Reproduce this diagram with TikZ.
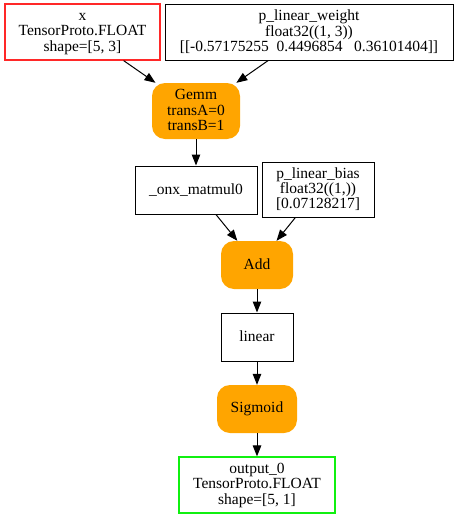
\documentclass[tikz,border=0pt]{standalone}
\usepackage{fontspec}
\setmainfont{Liberation Serif}
\usetikzlibrary{arrows.meta}
\definecolor{opfill}{HTML}{FFA500}
\definecolor{inred}{HTML}{FF2828}
\definecolor{outgreen}{HTML}{10F010}
% line strut: fixed ascent and descent for the first and last label line
\newcommand\ls{\rule[-3pt]{0pt}{14pt}}
\begin{document}
\begin{tikzpicture}[x=1pt,y=-1pt,
  every node/.style={font=\fontsize{15.5}{15.2}\selectfont, align=center, inner sep=0pt},
  tensor/.style={draw=black, line width=1pt, rectangle},
  op/.style={fill=opfill, rounded corners=13pt, rectangle},
  flow/.style={-{Triangle[length=11pt,width=8.5pt]}, line width=1pt}]
  \useasboundingbox (0,0) rectangle (458,517);

  % inputs and initializers
  \node[tensor, draw=inred, line width=1.2pt, minimum width=155pt, minimum height=56pt] (x) at (82.5,32)
    {\ls x\\TensorProto.FLOAT\\shape=[5, 3]\ls};
  \node[tensor, minimum width=288pt, minimum height=56pt] (w) at (309,32)
    {\ls p\_linear\_weight\\float32((1, 3))\\{}[[-0.57175255\ \ 0.4496854\ \ \ 0.36101404]]\ls};
  \node[op, minimum width=88pt, minimum height=56pt] (gemm) at (196,111)
    {\ls Gemm\\transA=0\\transB=1\ls};
  \node[tensor, minimum width=122pt, minimum height=48pt] (mm) at (196,190)
    {\ls\_onx\_matmul0\ls};
  \node[tensor, minimum width=112pt, minimum height=55pt] (b) at (318,189.5)
    {\ls p\_linear\_bias\\float32((1,))\\{}[0.07128217]\ls};
  \node[op, minimum width=72pt, minimum height=48pt] (add) at (257,265) {\ls Add\ls};
  \node[tensor, minimum width=72pt, minimum height=48pt] (lin) at (257,337) {\ls linear\ls};
  \node[op, minimum width=80pt, minimum height=48pt] (sig) at (257,409) {\ls Sigmoid\ls};
  \node[tensor, draw=outgreen, line width=1.2pt, minimum width=156pt, minimum height=56pt] (out) at (257,485)
    {\ls output\_0\\TensorProto.FLOAT\\shape=[5, 1]\ls};

  % data flow
  \draw[flow] (x) -- (gemm);
  \draw[flow] (w) -- (gemm);
  \draw[flow] (gemm) -- (mm);
  \draw[flow] (mm) -- (add);
  \draw[flow] (b) -- (add);
  \draw[flow] (add) -- (lin);
  \draw[flow] (lin) -- (sig);
  \draw[flow] (sig) -- (out);
\end{tikzpicture}
\end{document}
